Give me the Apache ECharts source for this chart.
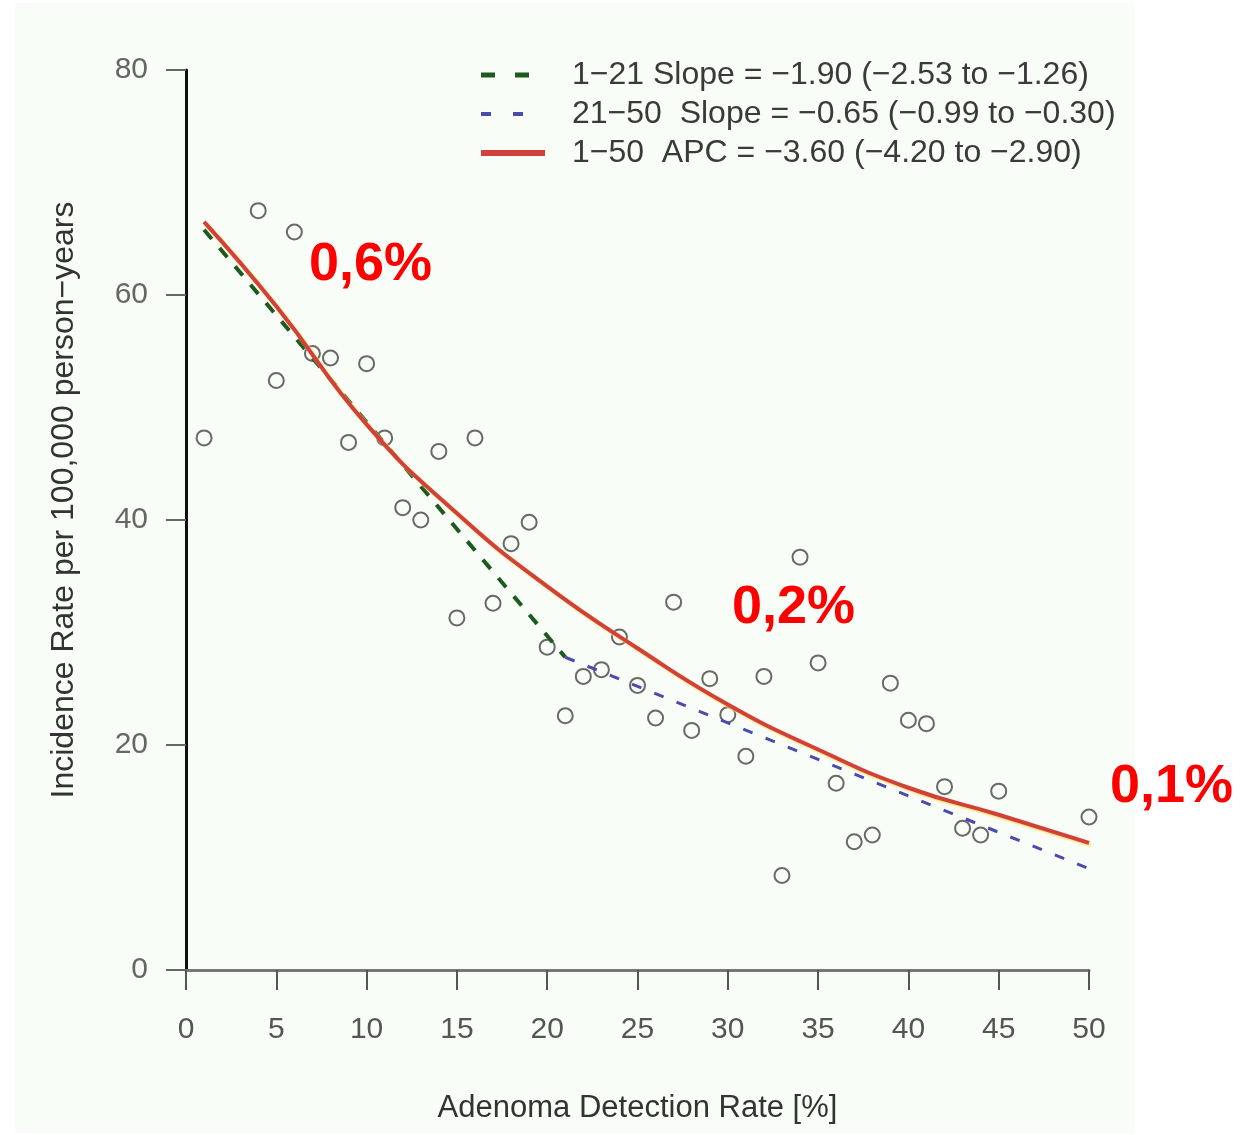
<!DOCTYPE html>
<html lang="en">
<head>
    <meta charset="utf-8">
    <title>ADR vs incidence</title>
    <script src="https://cdn.jsdelivr.net/npm/echarts@6/dist/echarts.min.js"></script>
    <style>
        html, body {margin: 0; padding: 0; background: #fff;}
        #paper {position: absolute; left: 15px; top: 3px; width: 1120px; height: 1130px; background: #f9fdf7;}
        #main {position: absolute; left: 0; top: 0; width: 1240px; height: 1135px;}
    </style>
</head>
<body>
<div id="paper"></div>
<div id="main"></div>
<script type="text/javascript">
    // observed points: [ADR %, incidence per 100,000]
    var points = [
        [1, 47.3], [4, 67.5], [5, 52.4], [6, 65.6], [7, 54.8], [8, 54.4], [9, 46.9], [10, 53.9],
        [11, 47.3], [12, 41.1], [13, 40.0], [14, 46.1], [15, 31.3], [16, 47.3], [17, 32.6], [18, 37.9],
        [19, 39.8], [20, 28.7], [21, 22.6], [22, 26.1], [23, 26.7], [24, 29.6], [25, 25.3], [26, 22.4],
        [27, 32.7], [28, 21.3], [29, 25.9], [30, 22.7], [31, 19.0], [32, 26.1], [33, 8.4], [34, 36.7],
        [35, 27.3], [36, 16.6], [37, 11.4], [38, 12.0], [39, 25.5], [40, 22.2], [41, 21.9], [42, 16.3],
        [43, 12.6], [44, 12.0], [45, 15.9], [50, 13.6]
    ];
    // fitted segments
    var seg1 = [[1, 65.8], [21, 27.8]];
    var seg2 = [[21, 27.8], [50, 9.0]];
    var apcCurve = [
        [1, 66.5], [5, 59.0], [10, 48.5], [15, 40.6], [20, 34.1], [25, 28.6],
        [30, 23.6], [35, 19.6], [40, 16.2], [45, 13.8], [50, 11.3]
    ];
    var legendNames = [
        '1\u221221 Slope = \u22121.90 (\u22122.53 to \u22121.26)',
        '21\u221250  Slope = \u22120.65 (\u22120.99 to \u22120.30)',
        '1\u221250  APC = \u22123.60 (\u22124.20 to \u22122.90)'
    ];
    var notes = [
        {text: '0,6%', x: 309, y: 238},
        {text: '0,2%', x: 732, y: 581},
        {text: '0,1%', x: 1110, y: 760}
    ];

    var font = 'Liberation Sans, Arial, sans-serif';
    var myChart = echarts.init(document.getElementById('main'));

    var option = {
        backgroundColor: 'transparent',
        animation: false,
        grid: {left: 186, right: 151, top: 70, bottom: 165},
        legend: {
            orient: 'vertical',
            left: 473,
            top: 54,
            itemWidth: 64,
            itemHeight: 10,
            itemGap: 7,
            data: [
                {name: legendNames[0], lineStyle: {width: 5, type: [14, 20]}},
                {name: legendNames[1], lineStyle: {width: 4, type: [10, 22]}},
                {name: legendNames[2], lineStyle: {width: 6}}
            ],
            itemStyle: {opacity: 0},
            textStyle: {fontFamily: font, fontSize: 32, color: '#3a3a3a', padding: [0, 0, 0, 22], lineHeight: 32}
        },
        xAxis: {
            type: 'value',
            min: 0, max: 50, interval: 5,
            name: 'Adenoma Detection Rate [%]',
            nameLocation: 'middle',
            nameGap: 123,
            nameTextStyle: {fontFamily: font, fontSize: 31, color: '#333'},
            splitLine: {show: false},
            axisLine: {onZero: false, lineStyle: {color: '#777', width: 3}},
            axisTick: {length: 20, lineStyle: {color: '#555', width: 2}},
            axisLabel: {margin: 45, fontFamily: font, fontSize: 30, color: '#555'}
        },
        yAxis: {
            type: 'value',
            min: 0, max: 80, interval: 20,
            name: 'Incidence Rate per 100,000 person\u2212years',
            nameLocation: 'middle',
            nameGap: 106,
            nameTextStyle: {fontFamily: font, fontSize: 32, color: '#333', padding: [0, 0, 0, 40]},
            splitLine: {show: false},
            axisLine: {show: true, lineStyle: {color: '#111', width: 3}},
            axisTick: {show: true, length: 20, lineStyle: {color: '#666', width: 2}},
            axisLabel: {margin: 38, fontFamily: font, fontSize: 30, color: '#666'}
        },
        graphic: notes.map(function (n) {
            return {
                type: 'text', left: n.x, top: n.y, z: 100,
                style: {text: n.text, fill: '#ff0000', font: 'bold 54px ' + font}
            };
        }),
        series: [
            {
                name: 'points',
                type: 'scatter',
                data: points,
                symbol: 'circle',
                symbolSize: 15,
                z: 1,
                itemStyle: {color: 'rgba(0,0,0,0)', borderColor: '#444', borderWidth: 2}
            },
            {
                name: legendNames[0],
                type: 'line',
                data: seg1,
                symbol: 'none',
                z: 3,
                color: '#1d5a1d',
                lineStyle: {color: '#1d5a1d', width: 4, type: [12, 12]}
            },
            {
                name: legendNames[1],
                type: 'line',
                data: seg2,
                symbol: 'none',
                z: 3,
                color: '#4a4ab0',
                lineStyle: {color: '#4a4ab0', width: 3, type: [10, 14]}
            },
            {
                name: legendNames[2],
                type: 'line',
                data: apcCurve,
                smooth: true,
                symbol: 'none',
                z: 4,
                color: '#d2403a',
                lineStyle: {
                    color: '#d2403a', width: 4,
                    shadowColor: 'rgba(255,225,110,0.95)', shadowBlur: 2, shadowOffsetX: 2, shadowOffsetY: 2
                }
            }
        ]
    };
    myChart.setOption(option);
</script>
</body>
</html>
